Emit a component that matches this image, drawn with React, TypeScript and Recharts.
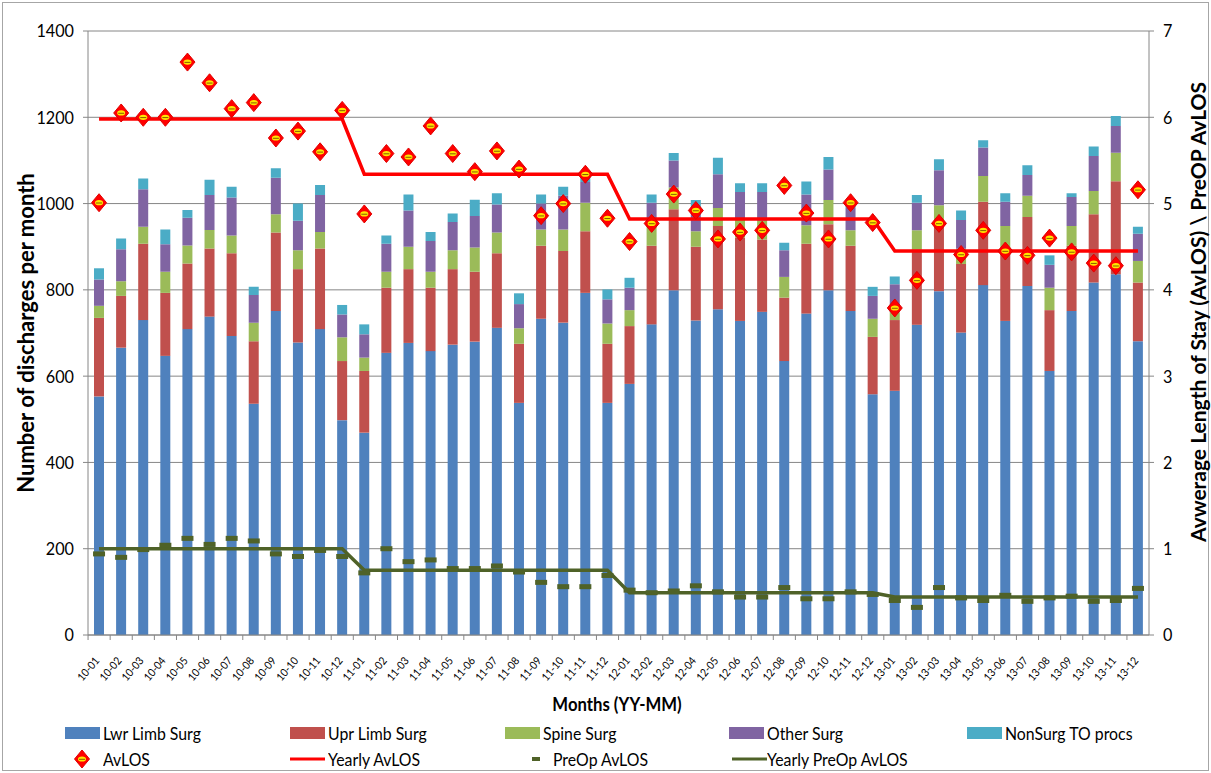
import React from 'react';
import { ComposedChart, Bar, Line, XAxis, YAxis, CartesianGrid, Legend } from 'recharts';

const months = [
  '10-01','10-02','10-03','10-04','10-05','10-06','10-07','10-08','10-09','10-10','10-11','10-12',
  '11-01','11-02','11-03','11-04','11-05','11-06','11-07','11-08','11-09','11-10','11-11','11-12',
  '12-01','12-02','12-03','12-04','12-05','12-06','12-07','12-08','12-09','12-10','12-11','12-12',
  '13-01','13-02','13-03','13-04','13-05','13-06','13-07','13-08','13-09','13-10','13-11','13-12',
];
const lwrLimbSurg = [553,666,730,647,709,738,693,536,751,678,709,498, 469,654,677,658,673,680,712,538,733,724,793,538, 582,720,799,729,755,728,749,635,745,799,751,558, 566,719,797,701,811,728,809,612,751,817,836,681];
const uprLimbSurg = [182,120,177,146,152,158,192,145,182,170,187,137, 143,151,171,147,175,162,173,137,169,166,143,137, 134,182,188,171,193,193,168,147,162,153,151,133, 164,175,159,159,193,162,160,141,151,158,216,136];
const spineSurg = [28,34,39,49,42,43,41,43,42,44,38,55, 31,37,52,37,44,56,48,36,38,50,66,47, 37,50,50,36,42,44,43,48,43,56,36,42, 18,44,40,35,60,58,49,52,46,54,66,50];
const otherSurg = [61,74,87,64,64,81,88,64,85,68,86,53, 54,65,84,71,65,73,65,56,60,78,48,56, 52,50,63,54,78,62,67,62,71,71,52,53, 65,64,81,67,66,56,48,53,67,81,62,63];
const nonSurgTO = [26,25,25,34,18,35,25,19,22,40,23,22, 23,19,37,21,20,38,26,25,21,21,18,23, 23,19,17,18,38,20,20,17,30,29,18,21, 18,18,26,22,17,20,23,22,9,22,23,16];
const avLOS = [5.01,6.05,6.00,6.00,6.64,6.40,6.10,6.17,5.76,5.84,5.60,6.08, 4.88,5.58,5.54,5.90,5.58,5.37,5.61,5.40,4.86,5.00,5.34,4.83, 4.56,4.77,5.11,4.92,4.59,4.67,4.69,5.21,4.89,4.59,5.01,4.78, 3.79,4.11,4.77,4.41,4.69,4.45,4.40,4.60,4.44,4.31,4.28,5.16];
const preOpAvLOS = [0.94,0.90,0.99,1.04,1.12,1.05,1.12,1.09,0.94,0.91,0.98,0.91, 0.72,1.00,0.85,0.87,0.77,0.77,0.80,0.73,0.61,0.56,0.56,0.69, 0.52,0.49,0.51,0.57,0.50,0.44,0.44,0.55,0.42,0.42,0.50,0.47, 0.40,0.32,0.55,0.43,0.40,0.46,0.39,0.43,0.45,0.39,0.40,0.54];
const yearLabels = ['10','11','12','13'];
const yearlyAvLOS = [5.98, 5.34, 4.82, 4.45];
const yearlyPreOpAvLOS = [1.00, 0.75, 0.49, 0.44];
const leftTicks = [0,200,400,600,800,1000,1200,1400];
const rightTicks = [0,1,2,3,4,5,6,7];

const data = months.map((m, i) => {
  const yi = yearLabels.indexOf(m.slice(0, 2));
  return {
    month: m,
    lwr: lwrLimbSurg[i],
    upr: uprLimbSurg[i],
    spine: spineSurg[i],
    other: otherSurg[i],
    nonSurg: nonSurgTO[i],
    avLOS: avLOS[i],
    yearlyAvLOS: yearlyAvLOS[yi],
    preOp: preOpAvLOS[i],
    yearlyPreOp: yearlyPreOpAvLOS[yi],
  };
});

const FONT = 'Lato, "Open Sans", sans-serif';
const C = {
  lwr: '#4F81BD', upr: '#C0504D', spine: '#9BBB59', other: '#8064A2', nonSurg: '#4BACC6',
  red: '#FF0000', olive: '#4F6228', grid: '#868686',
};

const DiamondShape = ({ cx, cy }: { cx: number; cy: number }) => (
  <g>
    <polygon points={`${cx},${cy - 9} ${cx + 7.5},${cy} ${cx},${cy + 9} ${cx - 7.5},${cy}`} fill={C.red} stroke="#E00000" strokeWidth={1} />
    <ellipse cx={cx} cy={cy} rx={4} ry={2.6} fill="#FFE600" />
    <line x1={cx - 3} x2={cx + 3} y1={cy + 0.3} y2={cy + 0.3} stroke="#8a5a00" strokeWidth={1} />
  </g>
);

const renderDiamond = (p: any) => {
  if (p.cx == null || p.cy == null) return <g key={`dn-${p.index}`} />;
  return <g key={`d-${p.index}`}><DiamondShape cx={p.cx} cy={p.cy} /></g>;
};
const renderDash = (p: any) => {
  if (p.cx == null || p.cy == null) return <g key={`pn-${p.index}`} />;
  return <rect key={`p-${p.index}`} x={p.cx - 6} y={p.cy - 2.5} width={12} height={5} fill={C.olive} />;
};

const XTick = (props: any) => {
  const { x, y, payload } = props;
  return (
    <g transform={`translate(${x},${y})`}>
      <line x1={-11} x2={-11} y1={-8} y2={-3} stroke={C.grid} />
      <text transform="translate(1,18) rotate(-50) scale(0.92,1)" x={0} y={0} textAnchor="end" fontSize={11} fontFamily={FONT} fill="#000">
        {payload.value}
      </text>
    </g>
  );
};

const LeftTick = (props: any) => {
  const { x, y, payload } = props;
  return (
    <text transform={`translate(${x},${y}) scale(0.9,1)`} x={0} y={0} dy="0.36em" textAnchor="end" fontSize={18} fontFamily={FONT} fill="#000">
      {payload.value}
    </text>
  );
};
const RightTick = (props: any) => {
  const { x, y, payload } = props;
  return (
    <text transform={`translate(${x},${y}) scale(0.9,1)`} x={0} y={0} dy="0.36em" textAnchor="start" fontSize={18} fontFamily={FONT} fill="#000">
      {payload.value}
    </text>
  );
};

const legendItems = [
  { label: 'Lwr Limb Surg', kind: 'box', color: C.lwr, left: 65, row: 0, textX: 103 },
  { label: 'Upr Limb Surg', kind: 'box', color: C.upr, left: 290, row: 0, textX: 328 },
  { label: 'Spine Surg', kind: 'box', color: C.spine, left: 505, row: 0, textX: 543 },
  { label: 'Other Surg', kind: 'box', color: C.other, left: 729, row: 0, textX: 767 },
  { label: 'NonSurg TO procs', kind: 'box', color: C.nonSurg, left: 967, row: 0, textX: 1005 },
  { label: 'AvLOS', kind: 'diamond', color: C.red, left: 65, row: 1, textX: 103 },
  { label: 'Yearly AvLOS', kind: 'line', color: C.red, left: 290, row: 1, textX: 328 },
  { label: 'PreOp AvLOS', kind: 'dash', color: C.olive, left: 520, row: 1, textX: 553 },
  { label: 'Yearly PreOp AvLOS', kind: 'line', color: C.olive, left: 732, row: 1, textX: 767 },
];

const LegendContent = () => (
  <div style={{ position: 'relative', width: 1211, height: 58, fontFamily: FONT }}>
    {legendItems.map((it) => {
      const cy = it.row === 0 ? 18 : 44;
      return (
        <React.Fragment key={it.label}>
          <svg style={{ position: 'absolute', left: it.left, top: cy - 10 }} width={36} height={20}>
            {it.kind === 'box' && <rect x={0} y={4} width={35} height={12} fill={it.color} />}
            {it.kind === 'line' && <rect x={0} y={8.5} width={35} height={3} fill={it.color} />}
            {it.kind === 'diamond' && <DiamondShape cx={17} cy={10} />}
            {it.kind === 'dash' && <rect x={12} y={8} width={8} height={4} fill={it.color} />}
          </svg>
          <div style={{ position: 'absolute', left: it.textX, top: cy - 11, fontSize: 18, lineHeight: '22px', color: '#000', whiteSpace: 'nowrap', transform: 'scaleX(0.88)', transformOrigin: 'left center' }}>
            {it.label}
          </div>
        </React.Fragment>
      );
    })}
  </div>
);

export default function App() {
  return (
    <div style={{ position: 'absolute', left: 0, top: 0, width: 1211, height: 773, background: '#fff', fontFamily: FONT }}>
      <div style={{ position: 'absolute', left: 2, top: 2, width: 1205, height: 767, border: '1px solid #a6a6a6' }} />
      <ComposedChart
        width={1211}
        height={773}
        data={data}
        margin={{ top: 31, right: 17, left: 28, bottom: 58 }}
        barCategoryGap={0}
        style={{ position: 'absolute', left: 0, top: 0 }}
      >
        <CartesianGrid yAxisId="left" vertical={false} stroke={C.grid} strokeWidth={1} />
        <XAxis
          dataKey="month"
          interval={0}
          height={80}
          tick={<XTick />}
          tickLine={false}
          tickSize={6}
          tickMargin={2}
          axisLine={{ stroke: C.grid }}
        />
        <YAxis
          yAxisId="left"
          domain={[0, 1400]}
          ticks={leftTicks}
          width={60}
          tickSize={5}
          tickMargin={9}
          axisLine={{ stroke: C.grid }}
          tickLine={{ stroke: C.grid }}
          tick={<LeftTick />}
          allowDataOverflow
        />
        <YAxis
          yAxisId="right"
          orientation="right"
          domain={[0, 7]}
          ticks={rightTicks}
          width={45}
          tickSize={5}
          tickMargin={9}
          axisLine={{ stroke: C.grid }}
          tickLine={{ stroke: C.grid }}
          tick={<RightTick />}
          allowDataOverflow
        />
        <Bar yAxisId="left" dataKey="lwr" name="Lwr Limb Surg" stackId="a" fill={C.lwr} barSize={10} isAnimationActive={false} />
        <Bar yAxisId="left" dataKey="upr" name="Upr Limb Surg" stackId="a" fill={C.upr} barSize={10} isAnimationActive={false} />
        <Bar yAxisId="left" dataKey="spine" name="Spine Surg" stackId="a" fill={C.spine} barSize={10} isAnimationActive={false} />
        <Bar yAxisId="left" dataKey="other" name="Other Surg" stackId="a" fill={C.other} barSize={10} isAnimationActive={false} />
        <Bar yAxisId="left" dataKey="nonSurg" name="NonSurg TO procs" stackId="a" fill={C.nonSurg} barSize={10} isAnimationActive={false} />
        <Line yAxisId="right" dataKey="yearlyAvLOS" name="Yearly AvLOS" stroke={C.red} strokeWidth={3.5} dot={false} type="linear" isAnimationActive={false} />
        <Line yAxisId="right" dataKey="yearlyPreOp" name="Yearly PreOp AvLOS" stroke={C.olive} strokeWidth={3.5} dot={false} type="linear" isAnimationActive={false} />
        <Line yAxisId="right" dataKey="avLOS" name="AvLOS" stroke="none" dot={renderDiamond} activeDot={false} isAnimationActive={false} />
        <Line yAxisId="right" dataKey="preOp" name="PreOp AvLOS" stroke="none" dot={renderDash} activeDot={false} isAnimationActive={false} />
        <Legend
          layout="vertical"
          align="center"
          verticalAlign="middle"
          content={<LegendContent />}
          wrapperStyle={{ position: 'absolute', left: 0, top: 715, width: 1211, height: 58 }}
        />
      </ComposedChart>
      <div style={{ position: 'absolute', left: 25, top: 333, transform: 'translate(-50%,-50%) rotate(-90deg)', fontWeight: 'bold', fontSize: 22, whiteSpace: 'nowrap', color: '#000' }}>
        Number of discharges per month
      </div>
      <div style={{ position: 'absolute', left: 1197, top: 312, transform: 'translate(-50%,-50%) rotate(-90deg)', fontWeight: 'bold', fontSize: 21, whiteSpace: 'nowrap', color: '#000' }}>
        Avwerage Length of Stay (AvLOS) \ PreOP AvLOS
      </div>
      <div style={{ position: 'absolute', left: 617, top: 703, transform: 'translate(-50%,-50%) scaleX(0.88)', fontWeight: 'bold', fontSize: 19, whiteSpace: 'nowrap', color: '#000' }}>
        Months (YY-MM)
      </div>
    </div>
  );
}
